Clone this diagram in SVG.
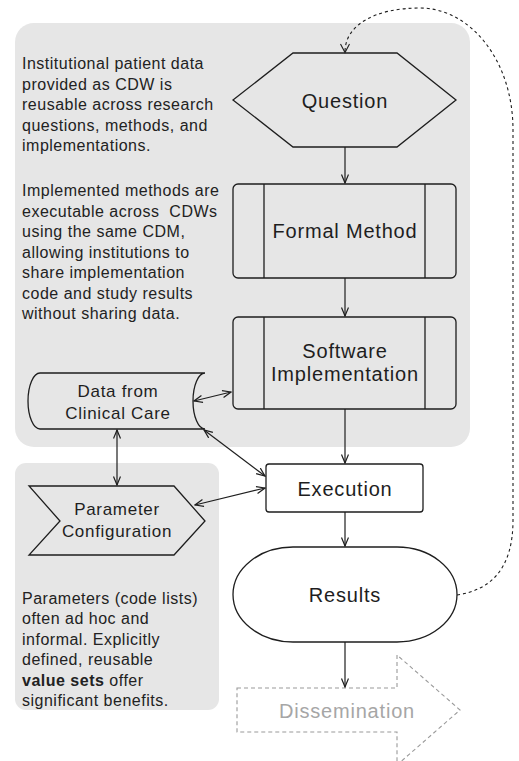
<svg xmlns="http://www.w3.org/2000/svg" width="519" height="761" viewBox="0 0 519 761">
<defs>
<style>
.panel{fill:#e6e6e6;stroke:none}
.shape{fill:none;stroke:#1e1e1e;stroke-width:1.3}
.white{fill:#fff;stroke:#1e1e1e;stroke-width:1.3}
.lbl{font-family:"Liberation Sans",Arial,sans-serif;font-size:20px;letter-spacing:0.8px;fill:#1e1e1e;text-anchor:middle}
.lbl2{font-family:"Liberation Sans",Arial,sans-serif;font-size:17px;letter-spacing:0.7px;fill:#1e1e1e;text-anchor:middle}
.body{font-family:"Liberation Sans",Arial,sans-serif;font-size:16px;letter-spacing:0.5px;fill:#222}
.conn{fill:none;stroke:#1e1e1e;stroke-width:1.2}
.dash{fill:none;stroke:#1e1e1e;stroke-width:1.1;stroke-dasharray:3 3}
</style>
<marker id="arr" markerWidth="10" markerHeight="10" refX="9" refY="4" orient="auto-start-reverse" markerUnits="userSpaceOnUse">
<path d="M0.5,0.5 L9,4 L0.5,7.5" fill="none" stroke="#1e1e1e" stroke-width="1.2"/>
</marker>
</defs>
<rect class="panel" x="15" y="23" width="455" height="424" rx="19"/>
<rect class="panel" x="15" y="463" width="204" height="247" rx="11"/>
<g id="text-cdw" class="body">
<text x="22" y="69">Institutional patient data</text>
<text x="22" y="89.6">provided as CDW is</text>
<text x="22" y="110.2">reusable across research</text>
<text x="22" y="130.8">questions, methods, and</text>
<text x="22" y="151.4">implementations.</text>
</g>
<g id="text-methods" class="body">
<text x="22" y="196">Implemented methods are</text>
<text x="22" y="216.5" xml:space="preserve">executable across  CDWs</text>
<text x="22" y="237">using the same CDM,</text>
<text x="22" y="257.5">allowing institutions to</text>
<text x="22" y="278">share implementation</text>
<text x="22" y="298.5">code and study results</text>
<text x="22" y="319">without sharing data.</text>
</g>
<g id="text-params" class="body">
<text x="22" y="603.5">Parameters (code lists)</text>
<text x="22" y="624">often ad hoc and</text>
<text x="22" y="644.5">informal. Explicitly</text>
<text x="22" y="665">defined, reusable</text>
<text x="22" y="685.5"><tspan font-weight="bold">value sets</tspan> offer</text>
<text x="22" y="706">significant benefits.</text>
</g>
<g id="question">
<polygon class="shape" points="233,100 293,53 397,53 456,100 397,147 293,147"/>
<text class="lbl" x="345" y="108">Question</text>
</g>
<g id="formal-method">
<rect class="shape" x="233" y="184" width="223" height="94" rx="5"/>
<line class="shape" x1="264" y1="184" x2="264" y2="278"/>
<line class="shape" x1="425" y1="184" x2="425" y2="278"/>
<text class="lbl" x="345" y="238">Formal Method</text>
</g>
<g id="software-implementation">
<rect class="shape" x="233" y="317" width="223" height="92" rx="5"/>
<line class="shape" x1="264" y1="317" x2="264" y2="409"/>
<line class="shape" x1="425" y1="317" x2="425" y2="409"/>
<text class="lbl" x="345" y="358">Software</text>
<text class="lbl" x="345" y="381">Implementation</text>
</g>
<g id="data-clinical-care">
<path class="shape" d="M40,373 L205,373 A12,28 0 0 0 205,429 L40,429 A12,28 0 0 1 40,373 Z"/>
<text class="lbl2" x="118" y="397">Data from</text>
<text class="lbl2" x="118" y="419">Clinical Care</text>
</g>
<g id="parameter-configuration">
<polygon class="shape" points="29,486 174,486 205,521 174,555 29,555 60,521"/>
<text class="lbl2" x="117" y="515">Parameter</text>
<text class="lbl2" x="117" y="537">Configuration</text>
</g>
<g id="execution">
<rect class="white" x="266" y="464" width="157" height="48" rx="3"/>
<text class="lbl" x="345" y="496">Execution</text>
</g>
<g id="results">
<path class="white" d="M293,547 L397,547 A60,47.5 0 0 1 397,642 L293,642 A60,47.5 0 0 1 293,547 Z"/>
<text class="lbl" x="345" y="602">Results</text>
</g>
<g id="dissemination">
<polygon points="237,688 397,688 397,655 460,710 397,765 397,732 237,732" fill="none" stroke="#9a9a9a" stroke-width="1.1" stroke-dasharray="4 3"/>
<text x="347" y="718" font-family="Liberation Sans, Arial, sans-serif" font-size="20" letter-spacing="0.8" fill="#a6a6a6" text-anchor="middle">Dissemination</text>
</g>
<g id="connectors">
<line class="conn" x1="345" y1="147" x2="345" y2="183" marker-end="url(#arr)"/>
<line class="conn" x1="345" y1="278" x2="345" y2="316" marker-end="url(#arr)"/>
<line class="conn" x1="345" y1="409" x2="345" y2="463" marker-end="url(#arr)"/>
<line class="conn" x1="345" y1="512" x2="345" y2="546" marker-end="url(#arr)"/>
<line class="conn" x1="345" y1="642" x2="345" y2="687" marker-end="url(#arr)"/>
<line class="conn" x1="194" y1="401" x2="231" y2="392" marker-start="url(#arr)" marker-end="url(#arr)"/>
<line class="conn" x1="204" y1="430" x2="265" y2="476" marker-start="url(#arr)" marker-end="url(#arr)"/>
<line class="conn" x1="117" y1="430" x2="117" y2="485" marker-start="url(#arr)" marker-end="url(#arr)"/>
<line class="conn" x1="195" y1="505" x2="265" y2="488" marker-start="url(#arr)" marker-end="url(#arr)"/>
<path class="dash" d="M457,595 C490,590 513,570 513,520 L513,130 C513,60 470,8 420,8 C375,8 345,25 345,52"/>
<path d="M340.5,44 L345,52.5 L349.5,44" fill="none" stroke="#1e1e1e" stroke-width="1.1"/>
</g>
</svg>
